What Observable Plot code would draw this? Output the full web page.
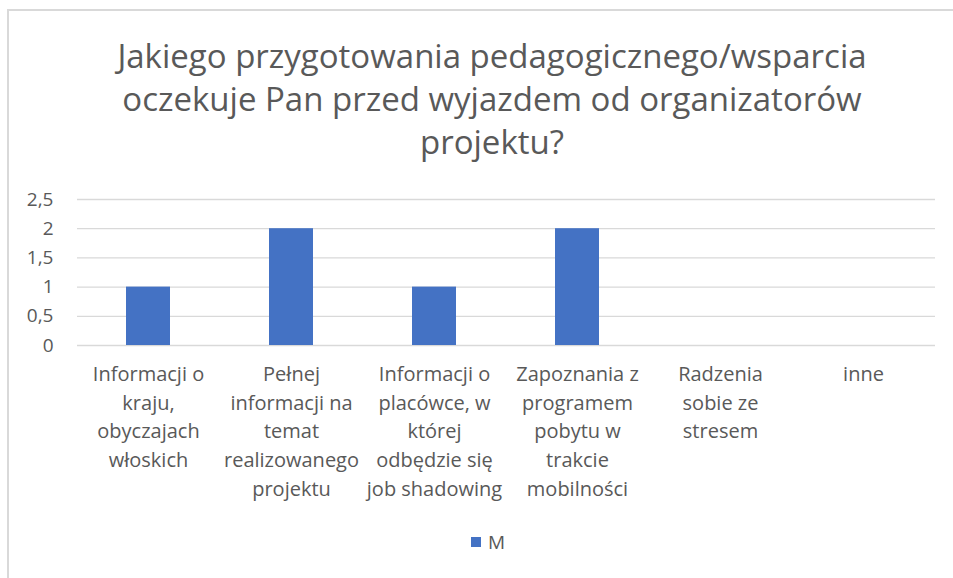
<!DOCTYPE html>
<html>
<head>
<meta charset="utf-8">
<script src="https://cdn.jsdelivr.net/npm/d3@7"></script>
<script src="https://cdn.jsdelivr.net/npm/@observablehq/plot@0.6"></script>
<style>
  html, body { margin: 0; padding: 0; background: #fff; }
  body { width: 953px; height: 578px; position: relative; overflow: hidden; font-family: "Open Sans", sans-serif; }
  #frame { position: absolute; left: 7px; top: 9px; width: 960px; height: 600px; border-top: 2px solid #d9d9d9; border-left: 2px solid #d9d9d9; }
  #title { position: absolute; left: 0; width: 984px; top: 34px; text-align: center; font-size: 33px; line-height: 43px; color: #595959; }
  #chart { position: absolute; left: 0; top: 170px; }
  #legend { position: absolute; top: 529px; left: 471px; font-size: 19px; color: #595959; display: flex; align-items: center; }
  #legend .sw { width: 10px; height: 10px; background: #4472C4; margin-right: 7px; }
</style>
</head>
<body>
<div id="frame"></div>
<div id="title"></div>
<div id="chart"></div>
<div id="legend"></div>
<script>
const titleLines = [
  "Jakiego przygotowania pedagogicznego/wsparcia",
  "oczekuje Pan przed wyjazdem od organizatorów",
  "projektu?"
];
const categories = [
  "Informacji o kraju, obyczajach włoskich",
  "Pełnej informacji na temat realizowanego projektu",
  "Informacji o placówce, w której odbędzie się job shadowing",
  "Zapoznania z programem pobytu w trakcie mobilności",
  "Radzenia sobie ze stresem",
  "inne"
];
const tickLabels = [
  "Informacji o\nkraju,\nobyczajach\nwłoskich",
  "Pełnej\ninformacji na\ntemat\nrealizowanego\nprojektu",
  "Informacji o\nplacówce, w\nktórej\nodbędzie się\njob shadowing",
  "Zapoznania z\nprogramem\npobytu w\ntrakcie\nmobilności",
  "Radzenia\nsobie ze\nstresem",
  "inne"
];
const seriesName = "M";
const values = [1, 2, 1, 2, 0, 0];
const yTicks = [0, 0.5, 1, 1.5, 2, 2.5];

document.getElementById("title").innerHTML = titleLines.join("<br>");

const data = categories.map((c, i) => ({category: c, value: values[i]}));
const labelOf = new Map(categories.map((c, i) => [c, tickLabels[i]]));
const fmt = d => String(d).replace(".", ",");

const plot = Plot.plot({
  width: 953,
  height: 340,
  marginLeft: 77,
  marginRight: 18,
  marginTop: 29,
  marginBottom: 165,
  style: {fontFamily: "'Open Sans', sans-serif", fontSize: "19px", color: "#595959", background: "transparent"},
  x: {domain: categories, paddingInner: 0.69, paddingOuter: 0.345, label: null},
  y: {domain: [0, 2.5], label: null},
  marks: [
    Plot.ruleY(yTicks, {stroke: "#d9d9d9", strokeWidth: 1.3, strokeOpacity: 1}),
    Plot.barY(data, {x: "category", y: "value", fill: "#4472C4"}),
    Plot.axisY(yTicks, {tickSize: 0, tickPadding: 24, tickFormat: fmt, fontSize: 19, fill: "#595959", label: null}),
    Plot.axisX({tickSize: 0, tickPadding: 15, tickFormat: d => labelOf.get(d), lineHeight: 1.435, fontSize: 20, fill: "#595959", label: null, lineWidth: 100})
  ]
});
document.getElementById("chart").appendChild(plot);

document.getElementById("legend").innerHTML = `<div class="sw"></div><span>${seriesName}</span>`;
</script>
</body>
</html>
